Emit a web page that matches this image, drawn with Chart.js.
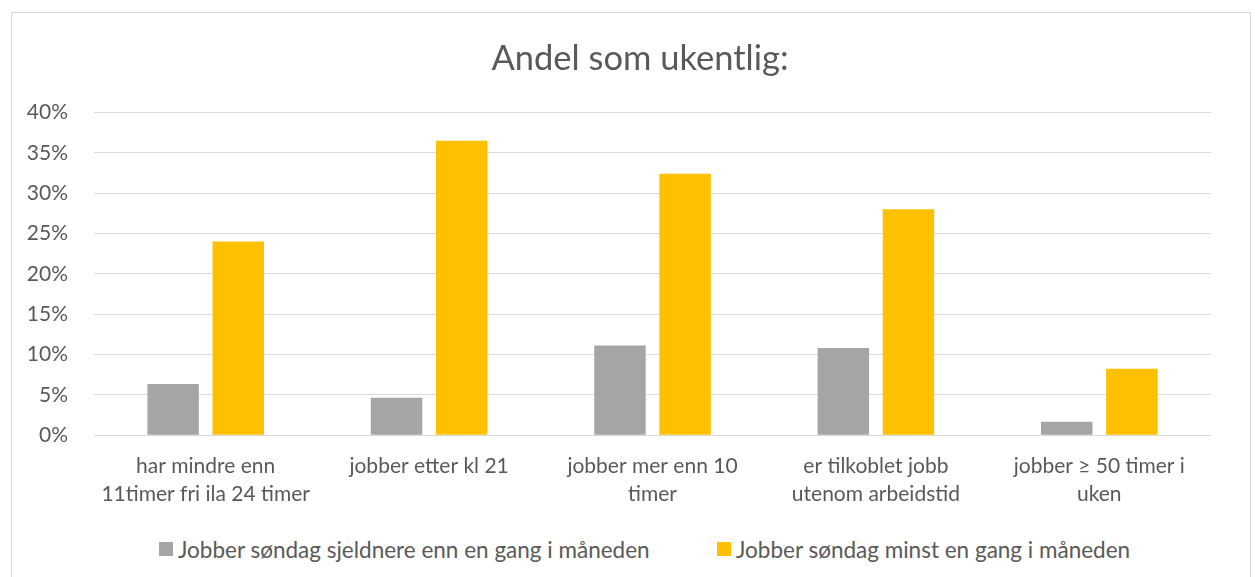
<!DOCTYPE html>
<html>
<head>
<meta charset="utf-8">
<script src="https://cdn.jsdelivr.net/npm/chart.js@4.4.1/dist/chart.umd.min.js"></script>
<style>
    body { margin: 0; background: #fff; font-family: Lato, sans-serif; overflow: hidden; }
    #frame { position: absolute; left: 11px; top: 12px; width: 1240px; height: 600px; border: 1px solid #d9d9d9; box-sizing: border-box; }
    #chartBox { position: absolute; left: 1px; top: 1px; width: 1244px; height: 511px; }
    .legItem { position: absolute; top: 523px; height: 26px; display: flex; align-items: center; color: #595959; font-size: 22.5px; white-space: nowrap; }
    .legItem .box { width: 14px; height: 14px; margin-right: 5px; }
</style>
</head>
<body>
<div id="frame">
    <div id="chartBox"><canvas id="chart"></canvas></div>
</div>
<script>
const categories = [
    ['har mindre enn', '11timer fri ila 24 timer'],
    'jobber etter kl 21',
    ['jobber mer enn 10', 'timer'],
    ['er tilkoblet jobb', 'utenom arbeidstid'],
    ['jobber ≥ 50 timer i', 'uken']
];
const seriesNames = [
    'Jobber søndag sjeldnere enn en gang i måneden',
    'Jobber søndag minst en gang i måneden'
];
const sjeldnere = [6.33, 4.64, 11.1, 10.8, 1.67];
const minst = [24.0, 36.5, 32.4, 28.0, 8.22];
const colors = ['#A5A5A5', '#FFC000'];

const textColor = '#595959';

const chart = new Chart(document.getElementById('chart').getContext('2d'), {
    type: 'bar',
    data: {
        labels: categories,
        datasets: [
            { label: seriesNames[0], data: sjeldnere, backgroundColor: colors[0] },
            { label: seriesNames[1], data: minst, backgroundColor: colors[1] }
        ]
    },
    options: {
        responsive: true,
        maintainAspectRatio: false,
        animation: false,
        categoryPercentage: 0.583,
        barPercentage: 0.79,
        layout: { padding: { left: 10, right: 0, top: 0, bottom: 0 } },
        plugins: {
            legend: { display: false },
            tooltip: { enabled: false },
            title: {
                display: true,
                text: 'Andel som ukentlig:',
                color: textColor,
                font: { family: 'Lato', size: 34.5, weight: 'normal', lineHeight: 1.2 },
                padding: { top: 24, bottom: 33 }
            }
        },
        scales: {
            x: {
                grid: { display: false, drawTicks: false },
                border: { display: false },
                ticks: {
                    color: textColor,
                    font: { family: 'Lato', size: 21, lineHeight: 1.33 },
                    padding: 17,
                    maxRotation: 0,
                    autoSkip: false
                }
            },
            y: {
                min: 0,
                max: 40,
                grid: { color: '#d9d9d9', drawTicks: false, lineWidth: 1 },
                border: { display: false },
                afterFit: function(scale) { scale.width = 71; },
                ticks: {
                    stepSize: 5,
                    color: textColor,
                    font: { family: 'Lato', size: 21 },
                    padding: 26,
                    callback: v => v + '%'
                }
            },
            // empty right margin so the title sits where Excel put it
            yRight: {
                position: 'right',
                grid: { display: false, drawTicks: false },
                border: { display: false },
                ticks: { display: false },
                afterFit: function(scale) { scale.width = 46; }
            }
        }
    }
});

// legend below the chart, Excel style
const legendLeft = [147, 705];
const frame = document.getElementById('frame');
seriesNames.forEach((name, i) => {
    const item = document.createElement('div');
    item.className = 'legItem';
    item.style.left = legendLeft[i] + 'px';
    const box = document.createElement('span');
    box.className = 'box';
    box.style.background = colors[i];
    item.appendChild(box);
    item.appendChild(document.createTextNode(name));
    frame.appendChild(item);
});
</script>
</body>
</html>
